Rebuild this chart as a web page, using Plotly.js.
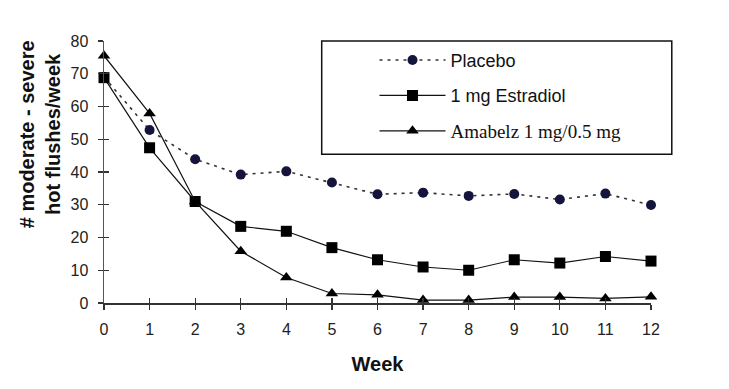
<!DOCTYPE html>
<html><head><meta charset="utf-8">
<script src="https://cdn.plot.ly/plotly-3.0.1.min.js"></script>
<style>html,body{margin:0;padding:0;background:#fff;}#chart{width:729px;height:389px;}</style>
</head><body><div id="chart"></div>
<script>
const weeks = [0,1,2,3,4,5,6,7,8,9,10,11,12];
const placebo = [69,52.8,43.9,39.2,40.2,36.8,33.2,33.7,32.7,33.3,31.6,33.4,29.9];
const estradiol = [68.8,47.4,31,23.4,21.9,16.9,13.2,11,10,13.2,12.2,14.2,12.8];
const amabelz = [75.5,57.9,31,15.8,7.8,2.9,2.5,0.9,0.9,1.8,1.8,1.4,1.9];
const names = ["Placebo","1 mg Estradiol","<span style=\"font-family:'Liberation Serif',serif;font-size:19px\">Amabelz 1 mg/0.5 mg</span>"];
const yTicks = [0,10,20,30,40,50,60,70,80];

const traces = [
 {x:weeks,y:placebo,name:names[0],mode:'lines+markers',legendgroup:'a',
  line:{color:'#333',width:1.6,dash:'3px,5px'},marker:{symbol:'circle',size:10,color:'#14143c'},cliponaxis:false},
 {x:weeks,y:estradiol,name:names[1],mode:'lines+markers',legendgroup:'b',
  line:{color:'#111',width:1.2},marker:{symbol:'square',size:11,color:'#000'},cliponaxis:false},
 {x:weeks,y:amabelz,name:names[2],mode:'lines+markers',legendgroup:'c',
  line:{color:'#111',width:1.2},marker:{symbol:'triangle-up',size:11,color:'#000'},cliponaxis:false}
];

const axFont = {family:'Liberation Sans, Arial, sans-serif',size:16,color:'#222'};
const layout = {
 width:729,height:389,
 margin:{l:104,r:78,t:41,b:86,pad:0},
 paper_bgcolor:'#fff',plot_bgcolor:'#fff',
 showlegend:true,
 legend:{x:0.4945,xanchor:'left',y:0.997,yanchor:'top',bgcolor:'rgba(0,0,0,0)',borderwidth:0,
   traceorder:'grouped',tracegroupgap:9,itemwidth:66,
   font:{family:'Liberation Sans, Arial, sans-serif',size:18,color:'#111'}},
 xaxis:{range:[0,12],tickvals:weeks,ticktext:weeks.map(String),showgrid:false,zeroline:false,
   showline:true,linecolor:'#333',linewidth:1.5,ticks:'outside',ticklen:5,tickcolor:'#333',tickwidth:1.2,
   tickfont:axFont,ticklabelstandoff:6,
   title:{text:'<b>Week</b>',font:{family:'Liberation Sans, Arial, sans-serif',size:20,color:'#111'},standoff:20}},
 yaxis:{range:[0,80],tickvals:yTicks,showgrid:false,zeroline:false,
   showline:true,linecolor:'#555',linewidth:1.5,ticks:'outside',ticklen:5,tickcolor:'#333',tickwidth:1.2,
   tickfont:axFont,ticklabelstandoff:6},
 xaxis2:{overlaying:'x',range:[0,12],tickvals:weeks,showticklabels:false,ticks:'inside',ticklen:5,
   tickcolor:'#333',tickwidth:1.2,showgrid:false,zeroline:false,showline:false},
 yaxis2:{overlaying:'y',range:[0,80],tickvals:yTicks,showticklabels:false,ticks:'inside',ticklen:5,
   tickcolor:'#333',tickwidth:1.2,showgrid:false,zeroline:false,showline:false},
 shapes:[{type:'rect',xref:'paper',yref:'paper',x0:0.398,x1:1.038,y0:0.568,y1:1.0,
   line:{color:'#111',width:1.5},fillcolor:'rgba(0,0,0,0)'}],
 annotations:[{xref:'paper',yref:'paper',x:-0.117,y:0.644,xanchor:'center',yanchor:'middle',textangle:-90,
   showarrow:false,align:'center',
   text:'<b># moderate - severe<br>hot flushes/week</b>',
   font:{family:'Liberation Sans, Arial, sans-serif',size:20,color:'#111'}}]
};
traces.push({x:[0],y:[0],xaxis:'x2',yaxis:'y2',mode:'markers',marker:{opacity:0},showlegend:false,hoverinfo:'skip'});
Plotly.newPlot('chart',traces,layout,{displayModeBar:false,staticPlot:true});
</script></body></html>
